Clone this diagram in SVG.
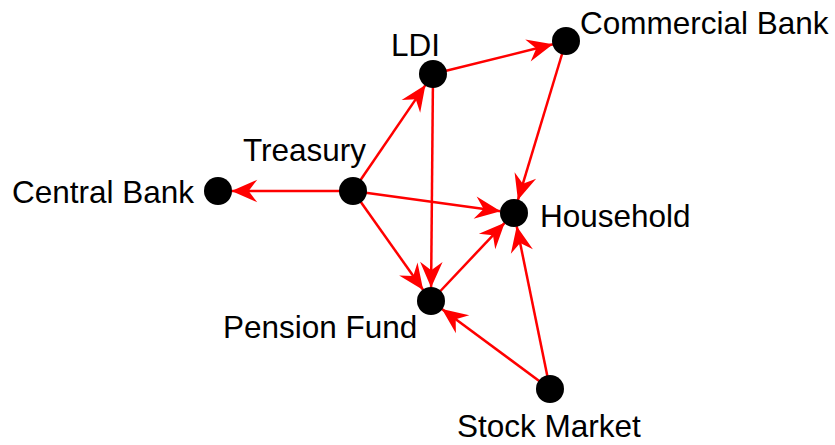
<svg xmlns="http://www.w3.org/2000/svg" width="835" height="445" viewBox="0 0 835 445">
  <style>
    .edge { stroke: #ff0000; stroke-width: 2.5; fill: none; marker-end: url(#arrow); }
    .node { fill: #000000; }
    .label { font-family: "Liberation Sans", Arial, sans-serif; font-size: 31.5px; fill: #000000; }
  </style>
  <defs>
    <marker id="arrow" markerUnits="userSpaceOnUse" markerWidth="30" markerHeight="30"
            viewBox="-26 -13 28 26" refX="0" refY="0" orient="auto">
      <path d="M0,0 L-24,-10.5 L-16,0 L-24,10.5 Z" fill="#ff0000"/>
    </marker>
  </defs>
  <rect width="835" height="445" fill="#ffffff"/>

  <g id="connectors">
    <line class="edge" x1="353" y1="191" x2="231.5" y2="191"/>
    <line class="edge" x1="353" y1="191" x2="425.4" y2="85.1"/>
    <line class="edge" x1="353" y1="191" x2="500.6" y2="211.2"/>
    <line class="edge" x1="353" y1="191" x2="423.2" y2="290"/>
    <line class="edge" x1="433" y1="74" x2="552.9" y2="44.3"/>
    <line class="edge" x1="433" y1="74" x2="431.1" y2="287.5"/>
    <line class="edge" x1="566" y1="41" x2="517.9" y2="200.1"/>
    <line class="edge" x1="431" y1="301" x2="504.7" y2="222.8"/>
    <line class="edge" x1="550" y1="389" x2="441.9" y2="309"/>
    <line class="edge" x1="550" y1="389" x2="516.7" y2="226.2"/>
  </g>

  <g id="central-bank">
    <circle class="node" cx="218" cy="191" r="14"/>
    <text class="label" x="12" y="203">Central Bank</text>
  </g>
  <g id="treasury">
    <circle class="node" cx="353" cy="191" r="14"/>
    <text class="label" x="243" y="161">Treasury</text>
  </g>
  <g id="ldi">
    <circle class="node" cx="433" cy="74" r="14"/>
    <text class="label" x="391" y="56">LDI</text>
  </g>
  <g id="commercial-bank">
    <circle class="node" cx="566" cy="41" r="14"/>
    <text class="label" x="580" y="34">Commercial Bank</text>
  </g>
  <g id="household">
    <circle class="node" cx="514" cy="213" r="14"/>
    <text class="label" x="540" y="227">Household</text>
  </g>
  <g id="pension-fund">
    <circle class="node" cx="431" cy="301" r="14"/>
    <text class="label" x="223" y="338">Pension Fund</text>
  </g>
  <g id="stock-market">
    <circle class="node" cx="550" cy="389" r="14"/>
    <text class="label" x="457" y="437">Stock Market</text>
  </g>
</svg>
